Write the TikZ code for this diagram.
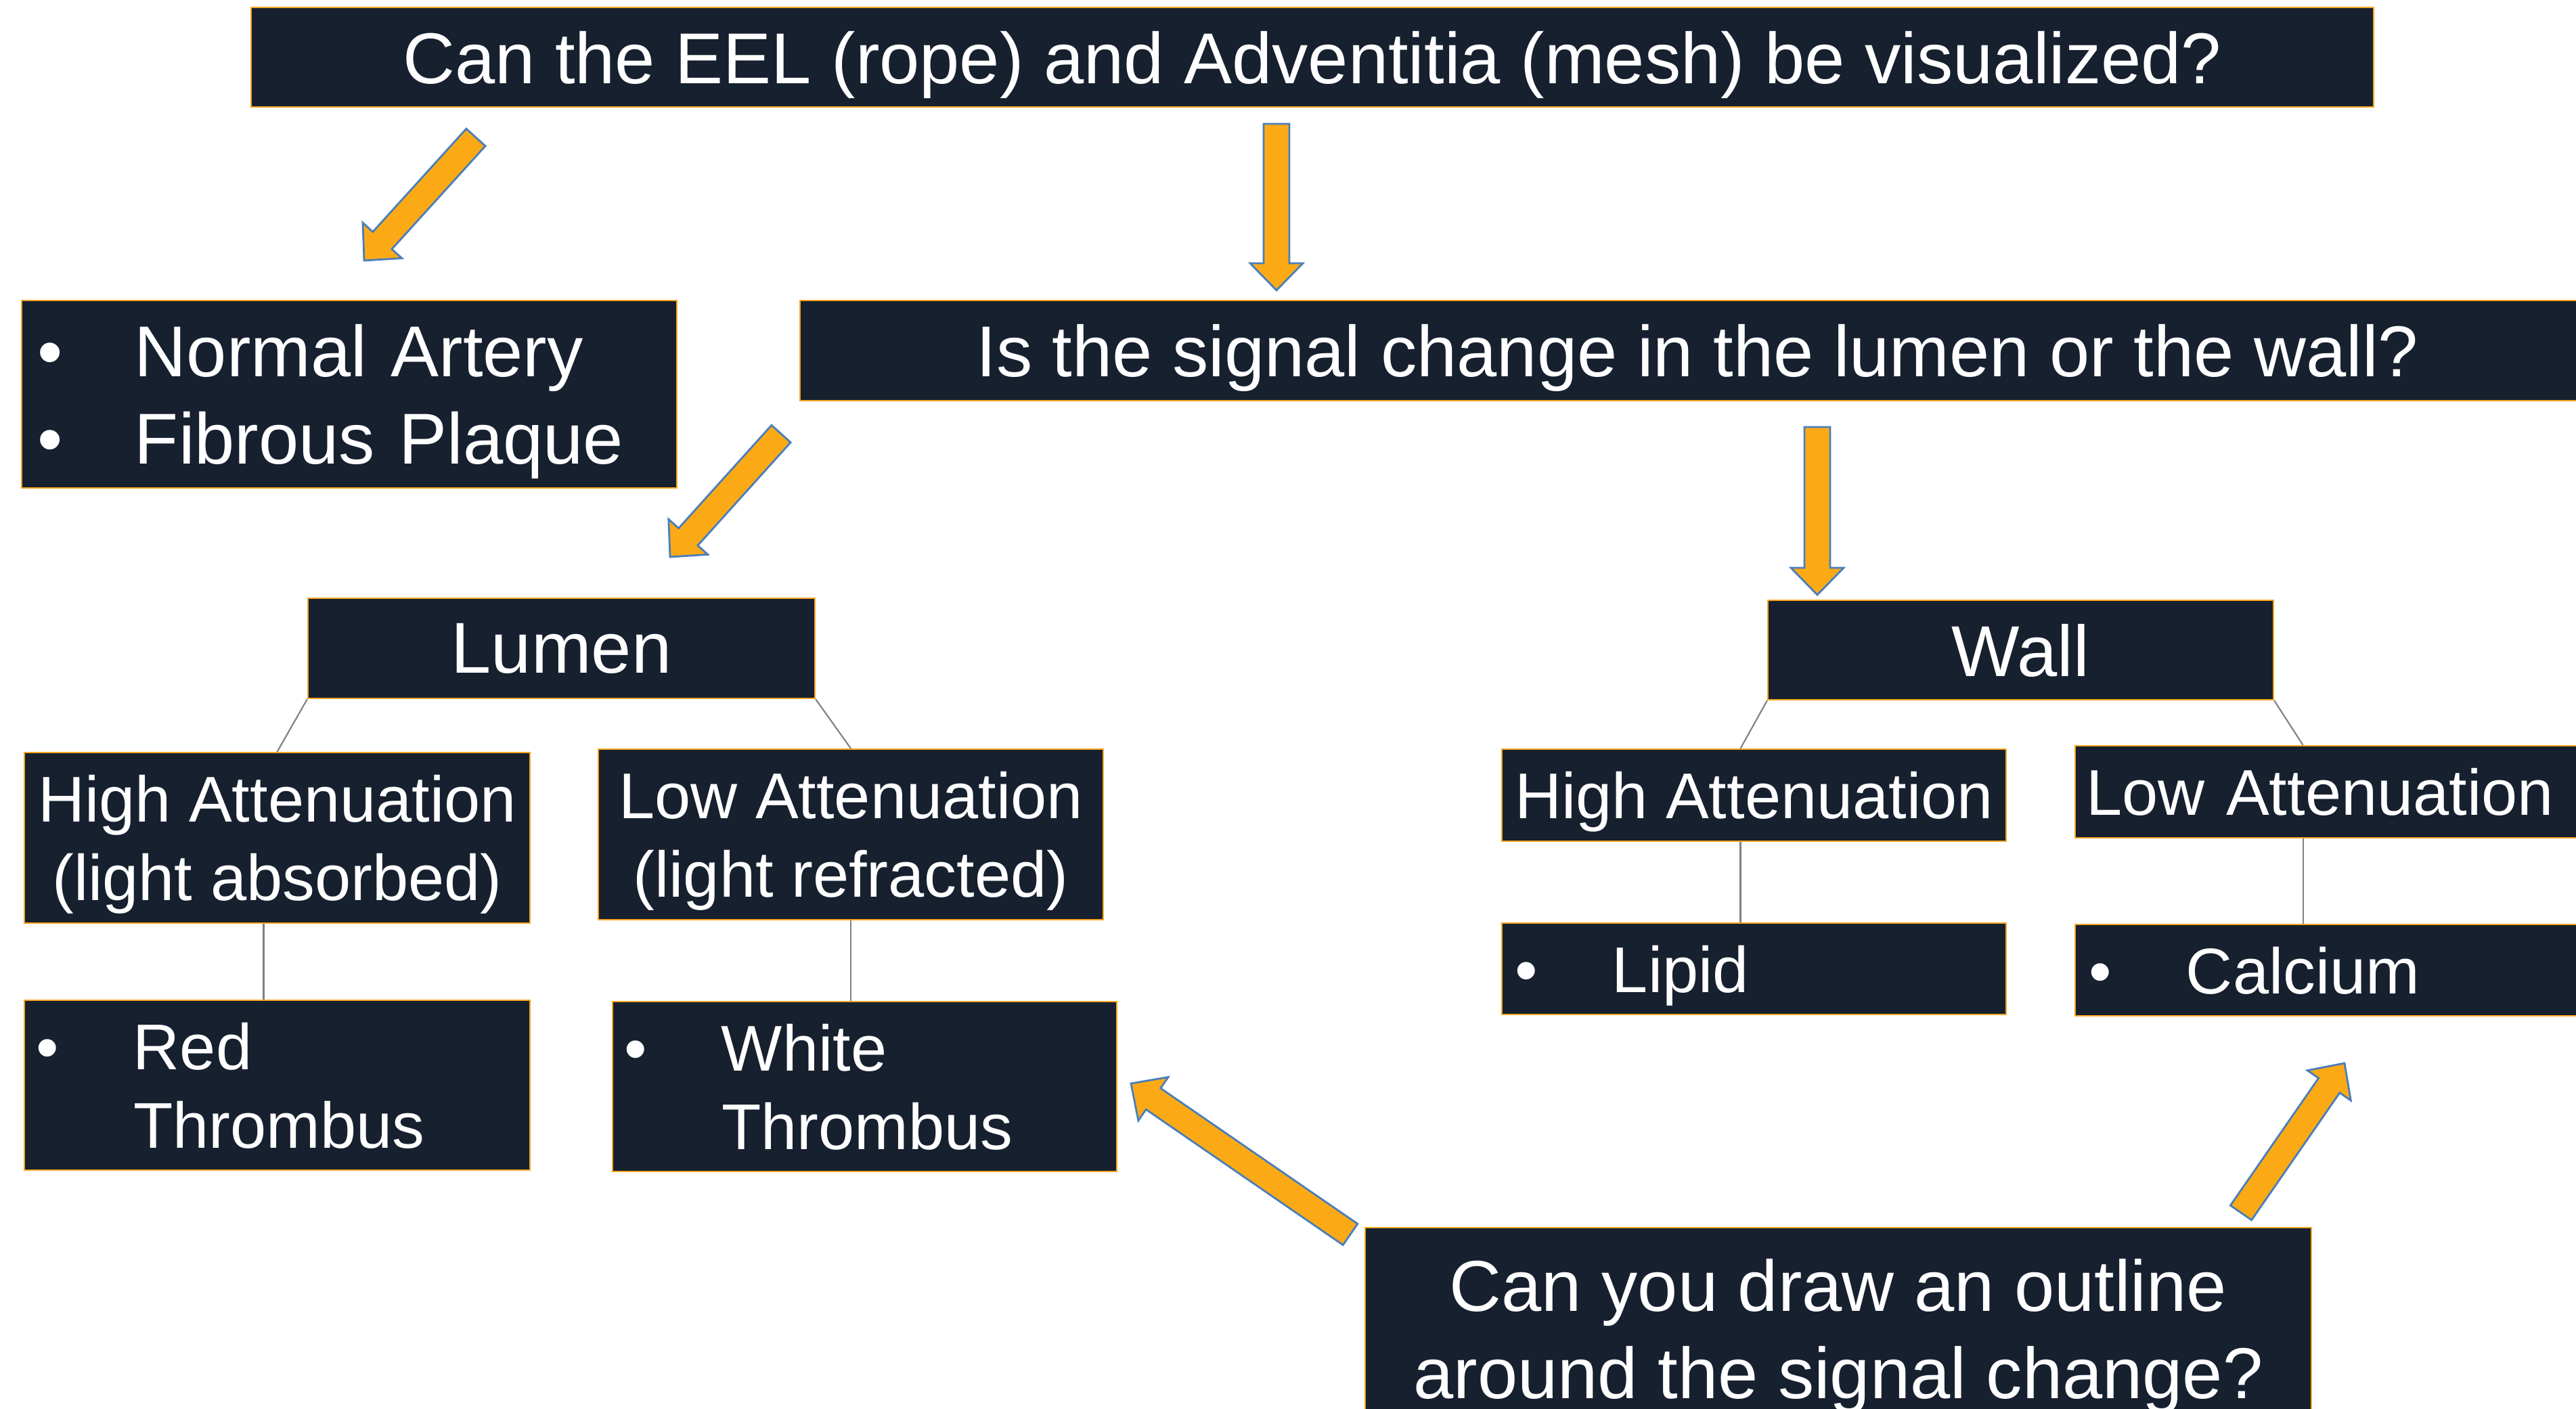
\documentclass[tikz,border=0pt]{standalone}
\usepackage{fontspec}
\setmainfont{Liberation Sans}
\usepackage{xcolor}
\usetikzlibrary{calc}
\definecolor{navy}{HTML}{16202F}
\definecolor{boxedge}{HTML}{F7A520}
\definecolor{arrowfill}{HTML}{FBAA16}
\definecolor{arrowedge}{HTML}{4A7EBB}
\definecolor{linkgrey}{HTML}{808080}
\newcommand{\bul}{\makebox[1.44cm][l]{•}}
\newcommand{\lastln}[1]{\leavevmode\smash{#1}}
\tikzstyle{qbox} = [rectangle, draw=boxedge, line width=0.6pt, fill=navy, text=white, inner sep=0pt, align=center, font=\fontsize{30.3}{36.5}\selectfont]
\tikzstyle{abox} = [qbox, font=\fontsize{27.2}{33}\selectfont]
\tikzstyle{link} = [draw=linkgrey, line width=0.6pt]
\tikzstyle{bigarrow} = [draw=arrowedge, fill=arrowfill, line width=0.8pt, line join=miter,
  to path={($(\tikztostart)!0.19cm!-90:(\tikztotarget)$)
    -- ($(\tikztotarget)!0.4428cm!25.41:(\tikztostart)$)
    -- ($(\tikztotarget)!0.5587cm!44.27:(\tikztostart)$)
    -- (\tikztotarget)
    -- ($(\tikztotarget)!0.5587cm!-44.27:(\tikztostart)$)
    -- ($(\tikztotarget)!0.4428cm!-25.41:(\tikztostart)$)
    -- ($(\tikztostart)!0.19cm!90:(\tikztotarget)$) -- cycle}]

\begin{document}
\begin{tikzpicture}[yscale=-1]

\fill[white] (0,0) rectangle (38.06,20.82);
\useasboundingbox (0,0) rectangle (38.06,20.82);

\node[qbox, minimum width=31.36cm, minimum height=1.47cm, text depth=0pt] (qvis) at (19.39, 0.845) {Can the EEL (rope) and Adventitia (mesh) be visualized?};
\node[qbox, minimum width=9.68cm, minimum height=2.77cm, align=left, inner xsep=0.23cm, text width=9.22cm] (qnorm) at (5.16, 5.825) {\bul Normal Artery\\\lastln{\bul Fibrous Plaque}};
\node[qbox, minimum width=26.52cm, minimum height=1.48cm, text depth=0pt] (qsig) at (25.08, 5.18) {Is the signal change in the lumen or the wall?};

\node[qbox, minimum width=7.49cm, minimum height=1.48cm, text depth=0pt] (lumen) at (8.295, 9.58) {Lumen};
\node[qbox, minimum width=7.47cm, minimum height=1.47cm, text depth=0pt] (wall) at (29.855, 9.605) {Wall};

\node[abox, minimum width=7.47cm, minimum height=2.52cm] (lhigh) at (4.095, 12.38) {High Attenuation\\\lastln{(light absorbed)}};
\node[abox, minimum width=7.46cm, minimum height=2.52cm] (llow) at (12.57, 12.33) {Low Attenuation\\\lastln{(light refracted)}};
\node[abox, minimum width=7.47cm, minimum height=2.51cm, align=left, inner xsep=0.17cm, text width=7.13cm] (red) at (4.095, 16.035) {\bul Red\\\lastln{\hspace*{1.44cm}Thrombus}};
\node[abox, minimum width=7.45cm, minimum height=2.51cm, align=left, inner xsep=0.17cm, text width=7.11cm] (white) at (12.775, 16.055) {\bul White\\\lastln{\hspace*{1.44cm}Thrombus}};

\node[abox, minimum width=7.45cm, minimum height=1.36cm, text depth=0pt] (whigh) at (25.915, 11.75) {High Attenuation};
\node[abox, minimum width=7.45cm, minimum height=1.35cm, text depth=0pt, align=left, inner xsep=0.19cm, text width=7.07cm] (lipid) at (25.915, 14.315) {\bul Lipid};
\node[abox, minimum width=7.74cm, minimum height=1.36cm, text depth=0pt, align=left, inner xsep=0.16cm, text width=7.42cm] (wlow) at (34.53, 11.70) {Low Attenuation};
\node[abox, minimum width=7.74cm, minimum height=1.35cm, text depth=0pt, align=left, inner xsep=0.2cm, text width=7.34cm] (calcium) at (34.53, 14.335) {\bul Calcium};

\node[qbox, minimum width=13.98cm, minimum height=2.99cm] (qout) at (27.16, 19.635) {Can you draw an outline\\\lastln{around the signal change?}};

% tree lines
\draw[link] (lumen.south west) -- (lhigh.north);
\draw[link] (lumen.south east) -- (llow.north);
\draw[link] ([xshift=-2mm]lhigh.south) -- ([xshift=-2mm]lhigh.south |- red.north);
\draw[link] (llow.south) -- (llow.south |- white.north);
\draw[link] (wall.south west) -- ([xshift=-2mm]whigh.north);
\draw[link] ([xshift=-2mm]whigh.south) -- ([xshift=-2mm]lipid.north);
\draw[link] (wall.south east) -- ($(wlow.north west)!0.435!(wlow.north east)$);
\draw[link] ($(wlow.south west)!0.435!(wlow.south east)$) -- ($(calcium.north west)!0.435!(calcium.north east)$);

% block arrows
\coordinate (a1s) at (7.03, 2.03);
\coordinate (a1e) at (5.38, 3.85);
\coordinate (a2s) at (18.86, 1.83);
\coordinate (a2e) at (18.86, 4.29);
\coordinate (a3s) at (11.54, 6.41);
\coordinate (a3e) at (9.90, 8.23);
\coordinate (a4s) at (26.85, 6.31);
\coordinate (a4e) at (26.85, 8.79);
\coordinate (a5s) at (19.95, 18.24);
\coordinate (a5e) at (16.71, 16.01);
\coordinate (a6s) at (33.11, 17.92);
\coordinate (a6e) at (34.64, 15.71);

\draw[bigarrow] (a1s) to (a1e);
\draw[bigarrow] (a2s) to (a2e);
\draw[bigarrow] (a3s) to (a3e);
\draw[bigarrow] (a4s) to (a4e);
\draw[bigarrow] (a5s) to (a5e);
\draw[bigarrow] (a6s) to (a6e);

\end{tikzpicture}
\end{document}
